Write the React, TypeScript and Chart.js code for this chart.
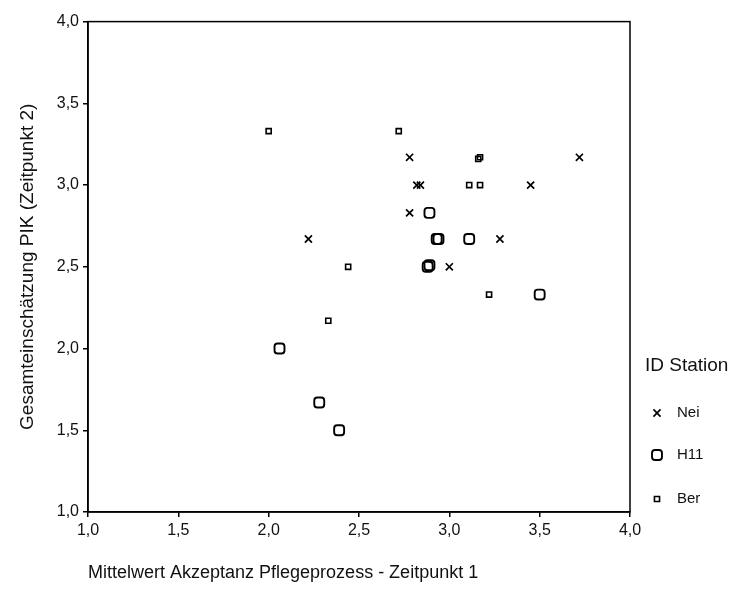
import React, { useEffect, useRef } from 'react';
import { Chart, registerables } from 'chart.js';

Chart.register(...registerables);

const neiX = [2.78, 3.72, 2.82, 2.84, 3.45, 2.78, 2.22, 3.28, 3.0];
const neiY = [3.17, 3.17, 3.0, 3.0, 3.0, 2.83, 2.67, 2.67, 2.5];

const h11X = [2.89, 2.94, 2.93, 3.11, 2.88, 2.89, 3.5, 2.06, 2.28, 2.39];
const h11Y = [2.83, 2.67, 2.67, 2.67, 2.5, 2.51, 2.33, 2.0, 1.67, 1.5];

const berX = [2.0, 2.72, 3.17, 3.16, 3.11, 3.17, 2.44, 3.22, 2.33];
const berY = [3.33, 3.33, 3.17, 3.16, 3.0, 3.0, 2.5, 2.33, 2.17];

const seriesNames = ['Nei', 'H11', 'Ber'];
const legendTitle = 'ID Station';
const xTitle = 'Mittelwert Akzeptanz Pflegeprozess - Zeitpunkt 1';
const yTitle = 'Gesamteinschätzung PIK (Zeitpunkt 2)';
const axisMin = 1;
const axisMax = 4;
const axisStep = 0.5;

const FONT = '"Liberation Sans", Arial, sans-serif';

const toPoints = (xs: number[], ys: number[]) => xs.map((x, i) => ({ x, y: ys[i] }));
const fmt = (v: any) => Number(v).toFixed(1).replace('.', ',');

function drawMarker(ctx: CanvasRenderingContext2D, kind: number, x: number, y: number) {
  ctx.save();
  ctx.strokeStyle = '#000';
  ctx.beginPath();
  if (kind === 0) {
    const d = 5 * Math.SQRT1_2;
    ctx.lineWidth = 1.7;
    ctx.moveTo(x - d, y - d); ctx.lineTo(x + d, y + d);
    ctx.moveTo(x - d, y + d); ctx.lineTo(x + d, y - d);
  } else if (kind === 1) {
    ctx.lineWidth = 1.9;
    const r = 5.8;
    const cr = r * 0.516;
    const size = r - cr;
    const o = Math.cos(Math.PI / 4) * size;
    ctx.roundRect(x - o - cr, y - o - cr, 2 * (o + cr), 2 * (o + cr), cr);
  } else {
    ctx.lineWidth = 1.6;
    const s = 3.6 * Math.SQRT1_2;
    ctx.rect(x - s, y - s, 2 * s, 2 * s);
  }
  ctx.stroke();
  ctx.restore();
}

const framePlugin = {
  id: 'frameAndLegend',
  afterDraw(chart: any) {
    const { ctx, chartArea } = chart;
    ctx.save();
    ctx.strokeStyle = '#000';
    ctx.lineWidth = 1.5;
    ctx.strokeRect(chartArea.left, chartArea.top, chartArea.right - chartArea.left, chartArea.bottom - chartArea.top);
    // legend
    ctx.fillStyle = '#111';
    ctx.textBaseline = 'middle';
    ctx.textAlign = 'left';
    ctx.font = `19px ${FONT}`;
    const b = chartArea.bottom;
    ctx.fillText(legendTitle, chartArea.right + 15, b - 146);
    const ys = [b - 99, b - 57, b - 13];
    ctx.font = `15px ${FONT}`;
    seriesNames.forEach((n, i) => {
      drawMarker(ctx, i, chartArea.right + 27, ys[i]);
      ctx.fillStyle = '#111';
      ctx.fillText(n, chartArea.right + 47, ys[i]);
    });
    ctx.restore();
  },
};

export default function App() {
  const ref = useRef<HTMLCanvasElement | null>(null);
  useEffect(() => {
    if (!ref.current) return;
    const common = {
      borderColor: '#000',
      backgroundColor: 'rgba(0,0,0,0)',
      showLine: false,
    };
    const chart = new Chart(ref.current, {
      type: 'scatter',
      data: {
        datasets: [
          { ...common, label: seriesNames[0], data: toPoints(neiX, neiY), pointStyle: 'crossRot', pointRadius: 5, borderWidth: 1.7 },
          { ...common, label: seriesNames[1], data: toPoints(h11X, h11Y), pointStyle: 'rectRounded', pointRadius: 5.8, borderWidth: 1.9 },
          { ...common, label: seriesNames[2], data: toPoints(berX, berY), pointStyle: 'rect', pointRadius: 3.6, borderWidth: 1.6 },
        ],
      },
      options: {
        animation: false,
        responsive: true,
        maintainAspectRatio: false,
        layout: { padding: { left: 8, right: 99, top: 9, bottom: 4 } },
        plugins: { legend: { display: false }, tooltip: { enabled: false } },
        scales: {
          x: {
            type: 'linear',
            min: axisMin,
            max: axisMax,
            afterFit: (s: any) => { s.height = 76; },
            ticks: { stepSize: axisStep, callback: fmt, color: '#111', font: { family: FONT, size: 16 }, padding: 4, maxRotation: 0 },
            grid: { drawOnChartArea: false, drawTicks: true, tickLength: 5, color: '#000', lineWidth: 1.5 },
            border: { display: true, color: '#000', width: 1.5 },
            title: { display: true, text: xTitle, align: 'start', color: '#111', font: { family: FONT, size: 18 }, padding: { top: 34, bottom: 4 } },
          },
          y: {
            type: 'linear',
            min: axisMin,
            max: axisMax,
            afterFit: (s: any) => { s.width = 72; },
            ticks: { stepSize: axisStep, callback: fmt, color: '#111', font: { family: FONT, size: 16 }, padding: 4 },
            grid: { drawOnChartArea: false, drawTicks: true, tickLength: 5, color: '#000', lineWidth: 1.5 },
            border: { display: true, color: '#000', width: 1.5 },
            title: { display: true, text: yTitle, color: '#111', font: { family: FONT, size: 19 }, padding: 0 },
          },
        },
      },
      plugins: [framePlugin],
    } as any);
    return () => chart.destroy();
  }, []);
  return (
    <div style={{ position: 'relative', width: 721, height: 584 }}>
      <canvas ref={ref} />
    </div>
  );
}
